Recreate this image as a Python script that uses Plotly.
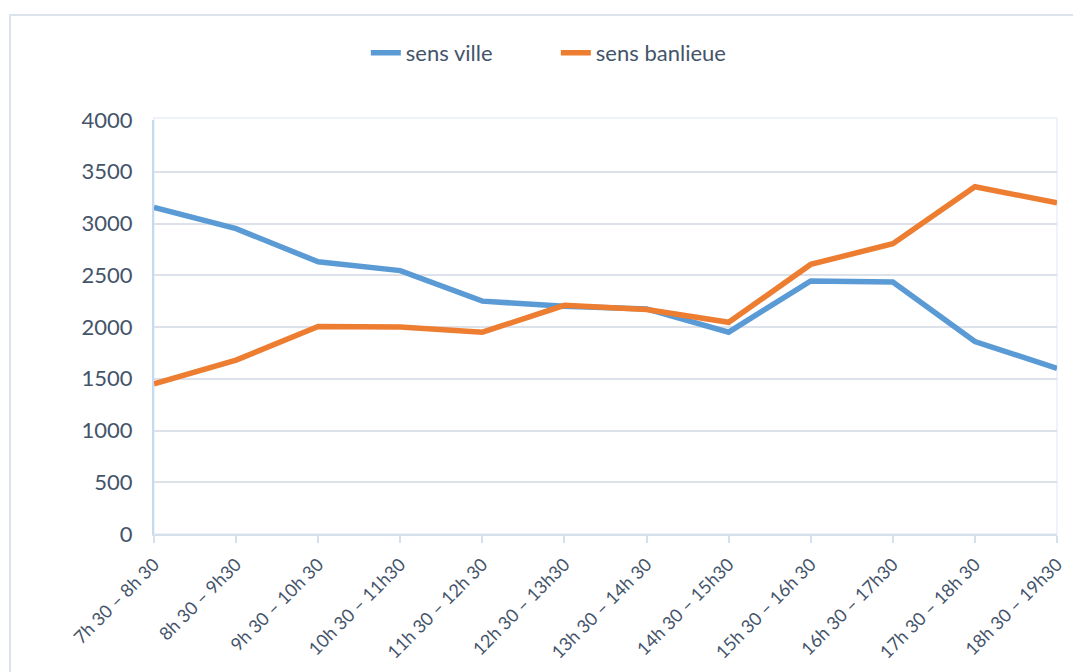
import plotly.graph_objects as go

categories = ["7h 30 – 8h 30", "8h 30 – 9h30", "9h 30 – 10h 30", "10h 30 – 11h30",
              "11h 30 – 12h 30", "12h 30 – 13h30", "13h 30 – 14h 30", "14h 30 – 15h30",
              "15h 30 – 16h 30", "16h 30 – 17h30", "17h 30 – 18h 30", "18h 30 – 19h30"]
sens_ville = [3155, 2950, 2630, 2545, 2250, 2200, 2175, 1950, 2445, 2435, 1860, 1600]
sens_banlieue = [1450, 1680, 2005, 2000, 1950, 2210, 2168, 2045, 2605, 2805, 3355, 3200]
y_ticks = [0, 500, 1000, 1500, 2000, 2500, 3000, 3500, 4000]

text_color = "#44546A"
font_family = "Lato, 'Open Sans', sans-serif"

fig = go.Figure()
fig.add_trace(go.Scatter(x=categories, y=sens_ville, mode="lines", name="sens ville",
                         line=dict(color="#5B9BD5", width=5.5)))
fig.add_trace(go.Scatter(x=categories, y=sens_banlieue, mode="lines", name="sens banlieue",
                         line=dict(color="#ED7D31", width=5.5)))

fig.update_layout(
    width=1081, height=664,
    margin=dict(l=146, r=32, t=112, b=138, autoexpand=False),
    paper_bgcolor="white", plot_bgcolor="white",
    font=dict(family=font_family, color=text_color, size=22),
    showlegend=True,
    legend=dict(orientation="h", x=0.445, xanchor="center", y=1.162, yanchor="middle",
                bgcolor="rgba(0,0,0,0)", entrywidth=145, entrywidthmode="pixels",
                font=dict(size=22, color=text_color), traceorder="normal"),
    xaxis=dict(type="category", categoryorder="array", categoryarray=categories,
               range=[0, len(categories) - 1], tickangle=-45, automargin=False,
               showgrid=False, showline=True, linecolor="#D6DFEC", linewidth=2,
               ticks="outside", ticklen=7, tickcolor="#D6DFEC", tickwidth=2,
               ticklabelstandoff=4,
               tickfont=dict(size=18, color=text_color, family=font_family), zeroline=False),
    yaxis=dict(range=[0, 4000], tickvals=y_ticks, showgrid=True, gridcolor="#DDE1EA", gridwidth=2,
               showline=True, linecolor="#C5DAF0", linewidth=2, zeroline=False,
               ticks="", ticklabelstandoff=15, automargin=False,
               tickfont=dict(size=22, color=text_color, family=font_family)),
    shapes=[
        dict(type="rect", xref="paper", yref="paper", x0=-0.1595, x1=1.06, y0=-0.4, y1=1.2536,
             line=dict(color="#DCE3EC", width=2), fillcolor="rgba(0,0,0,0)", layer="below"),
        dict(type="rect", xref="paper", yref="paper", x0=0, x1=1, y0=0, y1=1.005,
             line=dict(color="#EEF3F9", width=2), fillcolor="rgba(0,0,0,0)", layer="below"),
    ],
)

fig.write_html("out.html")
